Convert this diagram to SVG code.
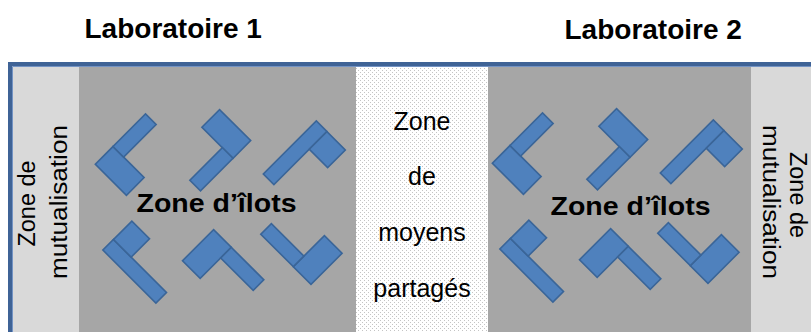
<svg xmlns="http://www.w3.org/2000/svg" xmlns:xlink="http://www.w3.org/1999/xlink" width="811" height="332" viewBox="0 0 811 332">
<style>
.desk rect{fill:#4f81bd;stroke:#3a6598;stroke-width:1.6;stroke-linejoin:miter}
.title{font-family:"Liberation Sans",Arial,sans-serif;font-weight:bold;font-size:28px;fill:#000}
.zi{font-family:"Liberation Sans",Arial,sans-serif;font-weight:bold;font-size:26px;fill:#000}
.mid{font-family:"Liberation Sans",Arial,sans-serif;font-size:25px;fill:#000;text-anchor:middle}
.vert{font-family:"Liberation Sans",Arial,sans-serif;font-size:23px;fill:#000;text-anchor:middle}
</style>
<defs>
<pattern id="dots" width="4" height="4" patternUnits="userSpaceOnUse">
<rect width="4" height="4" fill="#ffffff"/>
<rect x="0" y="0" width="1" height="1" fill="#c4c4c4"/>
<rect x="2" y="2" width="1" height="1" fill="#c4c4c4"/>
</pattern>
<g id="t1" class="desk"><rect x="0" y="0" width="44" height="25"/><rect x="0" y="-46" width="15" height="46"/></g>
<g id="t2" class="desk"><rect x="0" y="0" width="75" height="15"/><rect x="50" y="15" width="25" height="26"/></g>
<g id="lab">
<use xlink:href="#t1" transform="translate(113,146.5) rotate(45)"/>
<use xlink:href="#t1" transform="translate(233,158.3) rotate(-135)"/>
<use xlink:href="#t2" transform="translate(263.3,174) rotate(-45)"/>
<use xlink:href="#t2" transform="translate(155.9,303.1) rotate(-135)"/>
<use xlink:href="#t1" transform="translate(231.3,247.3) rotate(135)"/>
<use xlink:href="#t1" transform="translate(293.3,266.7) rotate(-45)"/>
</g>
</defs>
<rect width="811" height="332" fill="#ffffff"/>
<g id="titles">
<text class="title" x="84.5" y="37.5">Laboratoire 1</text>
<text class="title" x="564.5" y="38.5">Laboratoire 2</text>
</g>
<g id="zone-mutualisation-1">
<rect x="12" y="66" width="67" height="266" fill="#d9d9d9"/>
<text class="vert" transform="translate(35,203.5) rotate(-90)" textLength="86" lengthAdjust="spacingAndGlyphs">Zone de</text>
<text class="vert" transform="translate(66.5,202) rotate(-90)" textLength="154" lengthAdjust="spacingAndGlyphs">mutualisation</text>
</g>
<g id="zone-ilots-1">
<rect x="79" y="66" width="277" height="266" fill="#a6a6a6"/>
<use xlink:href="#lab"/>
<text class="zi" x="136.5" y="212" textLength="160" lengthAdjust="spacingAndGlyphs">Zone d’îlots</text>
</g>
<g id="zone-moyens">
<rect x="356" y="66" width="132" height="266" fill="url(#dots)"/>
<text class="mid" x="422" y="130">Zone</text>
<text class="mid" x="422" y="185">de</text>
<text class="mid" x="422" y="241">moyens</text>
<text class="mid" x="422" y="296.5">partagés</text>
</g>
<g id="zone-ilots-2">
<rect x="488" y="66" width="263" height="266" fill="#a6a6a6"/>
<use xlink:href="#lab" transform="translate(397,-1)"/>
<text class="zi" x="550.5" y="215" textLength="160" lengthAdjust="spacingAndGlyphs">Zone d’îlots</text>
</g>
<g id="zone-mutualisation-2">
<rect x="751" y="66" width="60" height="266" fill="#d9d9d9"/>
<text class="vert" transform="translate(789.5,195) rotate(90)" textLength="86" lengthAdjust="spacingAndGlyphs">Zone de</text>
<text class="vert" transform="translate(762.5,202) rotate(90)" textLength="154" lengthAdjust="spacingAndGlyphs">mutualisation</text>
</g>
<g id="frame">
<path d="M10,340 V64 H830" fill="none" stroke="#3f6396" stroke-width="4"/>
<path d="M12.5,340 V66.5 H830" fill="none" stroke="#7393c4" stroke-width="1"/>
</g>
</svg>
